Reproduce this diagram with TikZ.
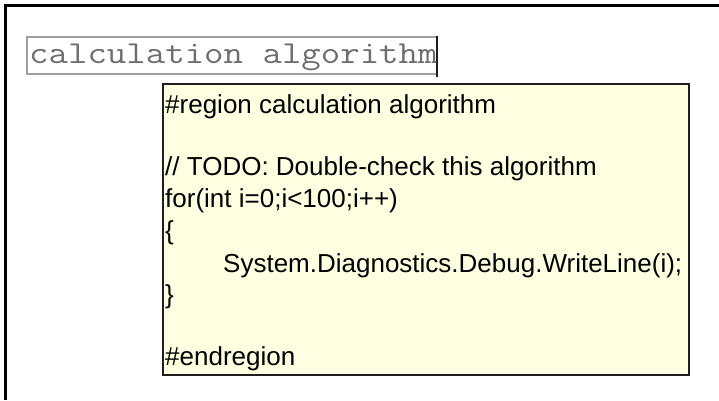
\documentclass[tikz,border=0pt]{standalone}
\usepackage{fontspec}
\newfontfamily\tipfont{Liberation Sans}
\definecolor{tipfill}{RGB}{255,255,225}
\definecolor{tipedge}{RGB}{30,30,30}
\definecolor{fieldedge}{RGB}{160,160,160}
\definecolor{fieldtext}{RGB}{110,110,110}
\tikzset{
  frameline/.style={line width=3pt, black},
  fieldbox/.style={draw=fieldedge, line width=1.5pt, fill=white},
  caretline/.style={line width=2.5pt, tipedge},
  tipbox/.style={draw=tipedge, line width=2pt, fill=tipfill},
  codeline/.style={anchor=base west, inner sep=0pt, font=\tipfont\fontsize{26}{30}\selectfont},
  fieldlabel/.style={anchor=base west, inner sep=0pt, text=fieldtext, font=\ttfamily\fontsize{32}{36}\selectfont}
}
\begin{document}
\begin{tikzpicture}[x=1pt, y=-1pt]
  \useasboundingbox (0,0) rectangle (719,400);
  \fill[white] (0,0) rectangle (719,400);
  % window frame: top and left edges
  \draw[frameline] (5.5,400) -- (5.5,5) -- (719,5);
  % collapsed region field
  \node[fieldbox, anchor=north west, minimum width=410pt, minimum height=37pt, inner sep=0pt] (field) at (26,36) {};
  \begin{scope}
    \clip (27,37) rectangle (435,72);
    \node[fieldlabel] (fieldtxt) at (29,63) {\scalebox{1.18}[1]{calculation algorithm}};
  \end{scope}
  \coordinate (caretTop) at (437,36);
  \coordinate (caretBot) at (437,77);
  \draw[caretline] (caretTop) -- (caretBot);
  % tooltip with the region's code
  \node[tipbox, anchor=north west, minimum width=526pt, minimum height=291pt, inner sep=0pt] (tip) at (162,83) {};
  \node[codeline] (l1) at (165,113) {\#region calculation algorithm};
  \node[codeline] (l3) at (165,175) {// TODO: Double-check this algorithm};
  \node[codeline] (l4) at (165,207) {for(int i=0;i<100;i++)};
  \node[codeline] (l5) at (165,239) {\{};
  \node[codeline] (l6) at (223,272) {System.Diagnostics.Debug.WriteLine(i);};
  \node[codeline] (l7) at (165,303) {\}};
  \node[codeline] (l9) at (165,365) {\#endregion};
\end{tikzpicture}
\end{document}
